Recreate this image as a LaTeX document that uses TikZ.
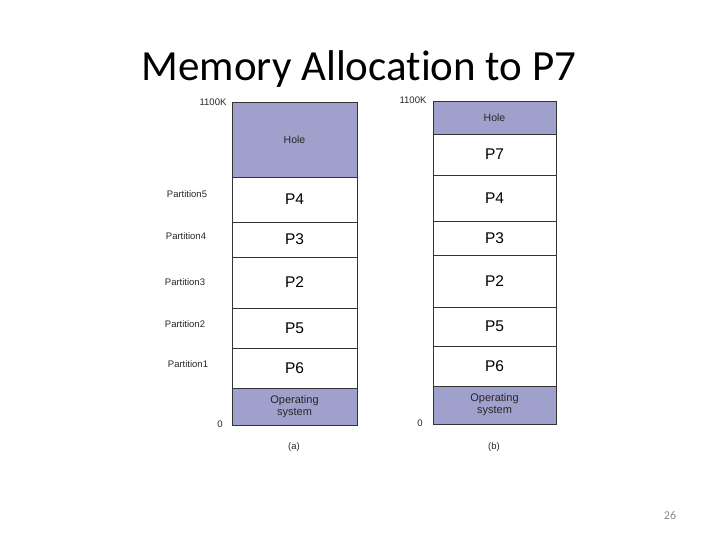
\documentclass[tikz,border=0pt]{standalone}
\usepackage{fontspec}
\setmainfont{Liberation Sans}
\newfontfamily\titlefont[Ligatures=NoCommon]{Carlito}
\definecolor{memfill}{HTML}{A0A0CC}
\definecolor{pagegray}{HTML}{8A8A8A}
\begin{document}
\begin{tikzpicture}[x=1pt,y=-1pt,
  blk/.style={draw=black!80,line width=0.9pt},
  hole/.style={blk,fill=memfill},
  free/.style={blk,fill=white},
  ptext/.style={font=\fontsize{15.5}{15.5}\selectfont},
  stext/.style={font=\fontsize{10.5}{11}\selectfont,align=center,text=black!85},
  ostext/.style={font=\fontsize{11}{12}\selectfont,align=center,text=black!85},
  lab/.style={font=\fontsize{9.5}{10}\selectfont,text=black!85}]
\useasboundingbox (0,0) rectangle (720,540);
\node[font=\titlefont\fontsize{43}{43}\selectfont,anchor=base] (title) at (359,81) {Memory Allocation to P7};
% column (a)
\draw[hole] (232,102) rectangle (357,177) node[midway,stext] (ah) {Hole};
\draw[free] (232,177) rectangle (357,222) node[midway,ptext] (a4) {P4};
\draw[free] (232,222) rectangle (357,257) node[midway,ptext] (a3) {P3};
\draw[free] (232,257) rectangle (357,308) node[midway,ptext] (a2) {P2};
\draw[free] (232,308) rectangle (357,348) node[midway,ptext] (a5) {P5};
\draw[free] (232,348) rectangle (357,388) node[midway,ptext] (a6) {P6};
\draw[hole] (232,388) rectangle (357,425) node[midway,ostext] (aos) {Operating\\system};
\node[lab] (ak) at (213,102) {1100K};
\node[lab] (p5) at (187,194) {Partition5};
\node[lab] (p4) at (186,236) {Partition4};
\node[lab] (p3) at (185,282) {Partition3};
\node[lab] (p2) at (185,324) {Partition2};
\node[lab] (p1) at (188,364) {Partition1};
\node[lab] (a0) at (220,424) {0};
\node[lab] (acap) at (294,447) {(a)};
% column (b)
\draw[hole] (433,101) rectangle (556,134) node[midway,stext] (bh) {Hole};
\draw[free] (433,134) rectangle (556,175) node[midway,ptext] (b7) {P7};
\draw[free] (433,175) rectangle (556,221) node[midway,ptext] (b4) {P4};
\draw[free] (433,221) rectangle (556,255) node[midway,ptext] (b3) {P3};
\draw[free] (433,255) rectangle (556,307) node[midway,ptext] (b2) {P2};
\draw[free] (433,307) rectangle (556,346) node[midway,ptext] (b5) {P5};
\draw[free] (433,346) rectangle (556,386) node[midway,ptext] (b6) {P6};
\draw[hole] (433,386) rectangle (556,424) node[midway,ostext] (bos) {Operating\\system};
\node[lab] (bk) at (413,100) {1100K};
\node[lab] (b0) at (420,423) {0};
\node[lab] (bcap) at (494,447) {(b)};
\node[text=pagegray,font=\titlefont\fontsize{12}{12}\selectfont] (page) at (670,515) {26};
\end{tikzpicture}
\end{document}
